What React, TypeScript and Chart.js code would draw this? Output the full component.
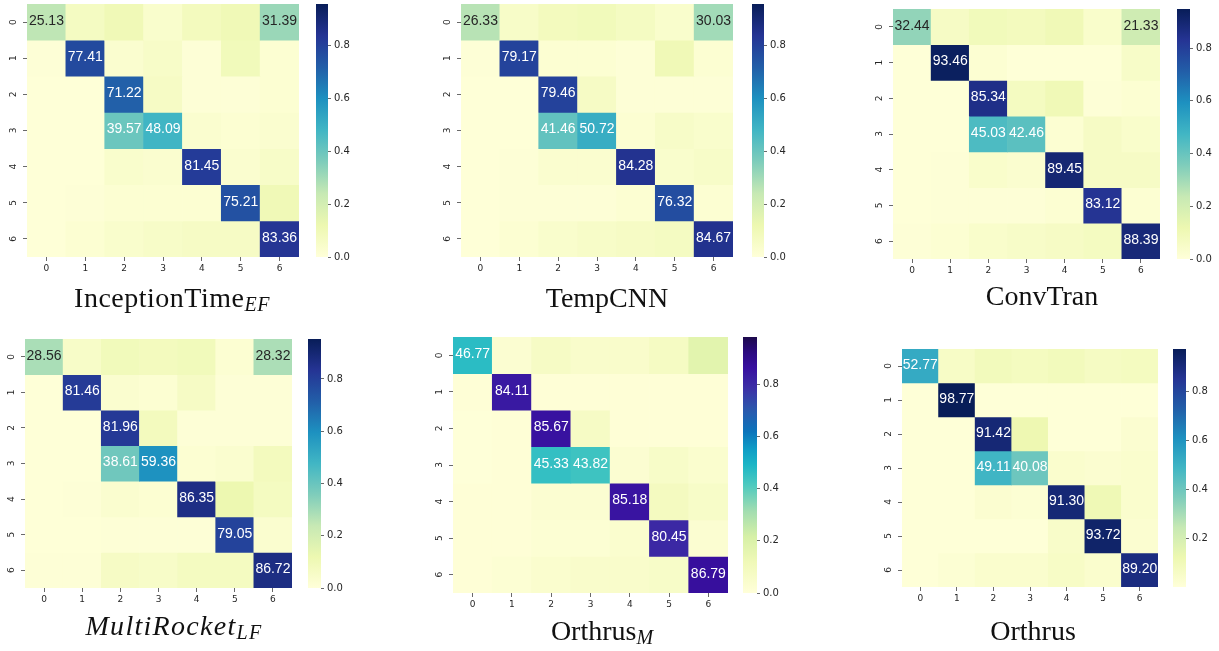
import React, { useEffect, useRef } from "react";
import { Chart, registerables } from "chart.js";

Chart.register(...registerables);

// ---------- data ----------
const CLASS_LABELS = ["0", "1", "2", "3", "4", "5", "6"];
const COLORBAR_TICKS = [0, 0.2, 0.4, 0.6, 0.8];
const ANNOT_MIN = 20;

const inceptionTimeEF = [
  [25.13, 7, 10, 4, 8, 10, 31.39],
  [1, 77.41, 3, 5, 1, 9, 2],
  [0.5, 0.5, 71.22, 6, 1, 1, 2],
  [0.5, 0.5, 39.57, 48.09, 3, 2, 3],
  [0.5, 0.5, 4, 3, 81.45, 3, 5],
  [0.5, 1, 2, 2, 2, 75.21, 10],
  [0.5, 2, 4, 5, 6, 6, 83.36],
];

const tempCNN = [
  [26.33, 5, 8, 9, 7, 4, 30.03],
  [1, 79.17, 2, 2, 1, 10, 2],
  [0.5, 0.5, 79.46, 6, 1, 1, 1],
  [0.5, 0.5, 41.46, 50.72, 2, 5, 4],
  [0.5, 1, 3, 3, 84.28, 4, 5],
  [0.5, 1, 1, 1, 2, 76.32, 2],
  [0.5, 2, 4, 5, 6, 7, 84.67],
];

const convTran = [
  [32.44, 6, 9, 8, 10, 4, 21.33],
  [0.5, 93.46, 2, 0.5, 0.5, 0.5, 5],
  [0.5, 0.5, 85.34, 7, 10, 1, 2],
  [0.5, 0.5, 45.03, 42.46, 2, 6, 4],
  [0.5, 1, 4, 3, 89.45, 6, 6],
  [0.5, 1, 1, 1, 2, 83.12, 2],
  [1, 2, 4, 5, 6, 7, 88.39],
];

const multiRocketLF = [
  [28.56, 5, 9, 8, 9, 2, 28.32],
  [0.5, 81.46, 3, 2, 6, 1, 1],
  [0.5, 0.5, 81.96, 8, 1, 1, 1],
  [0.5, 0.5, 38.61, 59.36, 2, 3, 8],
  [0.5, 1, 3, 2, 86.35, 12, 7],
  [0.5, 0.5, 1, 1, 1, 79.05, 3],
  [1, 1, 6, 5, 7, 7, 86.72],
];

const orthrusM = [
  [46.77, 3, 7, 5, 5, 8, 17],
  [1, 84.11, 1, 1, 1, 1, 1],
  [0.5, 1, 85.67, 7, 1, 1, 1],
  [0.5, 1, 45.33, 43.82, 3, 6, 4],
  [1, 1, 3, 3, 85.18, 9, 6],
  [1, 1, 2, 2, 4, 80.45, 3],
  [1, 2, 4, 5, 5, 6, 86.79],
];

const orthrus = [
  [52.77, 6, 9, 8, 9, 7, 8],
  [1, 98.77, 1, 1, 1, 1, 1],
  [1, 1, 91.42, 12, 1, 1, 3],
  [1, 1, 49.11, 40.08, 4, 3, 4],
  [1, 1, 3, 2, 91.3, 11, 4],
  [1, 1, 1, 1, 5, 93.72, 3],
  [1, 2, 4, 4, 6, 4, 89.2],
];

// colour scale ranges (min, max)
const rangeInception = [0, 0.955];
const rangeTempCNN = [0, 0.955];
const rangeConvTran = [0, 0.948];
const rangeMultiRocket = [0, 0.953];
const rangeOrthrusM = [0, 0.98];
const rangeOrthrus = [0.003, 0.972];

// ---------- colour maps ----------
const YLGNBU: [number, string][] = [
  [0, "#ffffd9"], [0.125, "#edf8b1"], [0.25, "#c7e9b4"], [0.375, "#7fcdbb"],
  [0.5, "#41b6c4"], [0.625, "#1d91c0"], [0.75, "#225ea8"], [0.875, "#253494"], [1, "#081d58"],
];
const YLGNPU: [number, string][] = [
  [0, "#ffffd9"], [0.12, "#f0f9b8"], [0.22, "#d6f0a6"], [0.32, "#a2ddb1"], [0.42, "#4fcabf"],
  [0.5, "#1cb6c6"], [0.56, "#0f9ec6"], [0.63, "#0b74bb"], [0.72, "#2c56ac"], [0.8, "#3c30a6"],
  [0.88, "#3810a0"], [0.94, "#2c0a80"], [1, "#1d0a4c"],
];

function hexToRgb(h: string) {
  return [parseInt(h.slice(1, 3), 16), parseInt(h.slice(3, 5), 16), parseInt(h.slice(5, 7), 16)];
}
function colorAt(cmap: [number, string][], t: number) {
  t = Math.max(0, Math.min(1, t));
  for (let i = 1; i < cmap.length; i++) {
    if (t <= cmap[i][0]) {
      const [t0, c0] = cmap[i - 1];
      const [t1, c1] = cmap[i];
      const f = (t - t0) / (t1 - t0);
      const a = hexToRgb(c0), b = hexToRgb(c1);
      const m = a.map((v, k) => Math.round(v + (b[k] - v) * f));
      return `rgb(${m[0]},${m[1]},${m[2]})`;
    }
  }
  return cmap[cmap.length - 1][1];
}

// ---------- layout ----------
type Box = { l: number; t: number; r: number; b: number };
type Panel = {
  matrix: number[][];
  range: number[];
  cmap: [number, string][];
  heat: Box;
  cbar: Box;
  title: React.ReactNode;
  titleX: number;
  titleBase: number;
};

const SUB: React.CSSProperties = { fontSize: 20, fontStyle: "italic", verticalAlign: "-4px" };

const PANELS: Panel[] = [
  {
    matrix: inceptionTimeEF, range: rangeInception, cmap: YLGNBU,
    heat: { l: 27, t: 4, r: 299, b: 257 }, cbar: { l: 316, t: 4, r: 328, b: 257 },
    title: <span style={{ letterSpacing: "0.5px" }}>InceptionTime<span style={SUB}>EF</span></span>, titleX: 172, titleBase: 307,
  },
  {
    matrix: tempCNN, range: rangeTempCNN, cmap: YLGNBU,
    heat: { l: 461, t: 4, r: 733, b: 257 }, cbar: { l: 752, t: 4, r: 764, b: 257 },
    title: <>TempCNN</>, titleX: 607, titleBase: 307,
  },
  {
    matrix: convTran, range: rangeConvTran, cmap: YLGNBU,
    heat: { l: 893, t: 9, r: 1160, b: 259 }, cbar: { l: 1177, t: 9, r: 1190, b: 259 },
    title: <>ConvTran</>, titleX: 1042, titleBase: 305,
  },
  {
    matrix: multiRocketLF, range: rangeMultiRocket, cmap: YLGNBU,
    heat: { l: 25, t: 339, r: 292, b: 588 }, cbar: { l: 308, t: 339, r: 321, b: 588 },
    title: <span style={{ fontStyle: "italic", letterSpacing: "1.3px" }}>MultiRocket<span style={SUB}>LF</span></span>, titleX: 174, titleBase: 635,
  },
  {
    matrix: orthrusM, range: rangeOrthrusM, cmap: YLGNPU,
    heat: { l: 453, t: 337, r: 728, b: 593 }, cbar: { l: 743, t: 337, r: 757, b: 593 },
    title: <>Orthrus<span style={SUB}>M</span></>, titleX: 602, titleBase: 640,
  },
  {
    matrix: orthrus, range: rangeOrthrus, cmap: YLGNBU,
    heat: { l: 902, t: 349, r: 1158, b: 587 }, cbar: { l: 1173, t: 349, r: 1186, b: 587 },
    title: <>Orthrus</>, titleX: 1033, titleBase: 640,
  },
];

const PAD = 14;
const Y_AXIS_W = 26;
const X_AXIS_H = 20;
const CB_AXIS_W = 34;
const TICK_FONT = { family: "DejaVu Sans", size: 9 };
const TICK_COLOR = "#262626";

function Heatmap({ p }: { p: Panel }) {
  const ref = useRef<HTMLCanvasElement>(null);
  const w = p.heat.r - p.heat.l + Y_AXIS_W + 2 * PAD;
  const h = p.heat.b - p.heat.t + X_AXIS_H + 2 * PAD;
  useEffect(() => {
    const [vmin, vmax] = p.range;
    const norm = (v: number) => (v / 100 - vmin) / (vmax - vmin);
    const datasets = p.matrix.map((row, r) => ({
      data: row.map(() => [r - 0.5, r + 0.5]),
      backgroundColor: row.map((v) => colorAt(p.cmap, norm(v))),
      grouped: false,
      barPercentage: 1,
      categoryPercentage: 1,
      borderWidth: 0,
    }));
    const annot = {
      id: "annot",
      afterDatasetsDraw(chart: any) {
        const { ctx } = chart;
        const xs = chart.scales.x, ys = chart.scales.y;
        ctx.save();
        ctx.font = '14px "Liberation Sans", Arial, sans-serif';
        ctx.textAlign = "center";
        ctx.textBaseline = "middle";
        p.matrix.forEach((row, r) =>
          row.forEach((v, c) => {
            if (v < ANNOT_MIN) return;
            ctx.fillStyle = norm(v) > 0.37 ? "#ffffff" : "#262626";
            ctx.fillText(v.toFixed(2), xs.getPixelForValue(c), ys.getPixelForValue(r) - 1);
          })
        );
        ctx.restore();
      },
    };
    const chart = new Chart(ref.current as HTMLCanvasElement, {
      type: "bar",
      data: { labels: CLASS_LABELS, datasets: datasets as any },
      options: {
        animation: false,
        responsive: false,
        events: [],
        layout: { padding: PAD },
        plugins: { legend: { display: false }, tooltip: { enabled: false } },
        scales: {
          x: {
            type: "category",
            offset: true,
            afterFit: (s: any) => { s.height = X_AXIS_H; },
            ticks: { font: TICK_FONT, color: TICK_COLOR, padding: 2, maxRotation: 0, autoSkip: false },
            grid: { offset: false, drawOnChartArea: false, drawTicks: true, tickLength: 4, color: "#444", lineWidth: 0.8 },
            border: { display: false },
          },
          y: {
            type: "linear",
            min: -0.5,
            max: 6.5,
            reverse: true,
            afterBuildTicks: (s: any) => { s.ticks = CLASS_LABELS.map((_, i) => ({ value: i })); },
            afterFit: (s: any) => { s.width = Y_AXIS_W; },
            ticks: {
              callback: (v: any) => CLASS_LABELS[v],
              minRotation: 90, maxRotation: 90, crossAlign: "center",
              padding: 6, font: TICK_FONT, color: TICK_COLOR,
            },
            grid: { drawOnChartArea: false, drawTicks: true, tickLength: 4, color: "#444", lineWidth: 0.8 },
            border: { display: false },
          },
        },
      } as any,
      plugins: [annot],
    });
    return () => chart.destroy();
  }, []);
  return (
    <canvas
      ref={ref}
      width={w}
      height={h}
      style={{ position: "absolute", left: p.heat.l - Y_AXIS_W - PAD, top: p.heat.t - PAD, width: w, height: h }}
    />
  );
}

function ColorBar({ p }: { p: Panel }) {
  const ref = useRef<HTMLCanvasElement>(null);
  const w = p.cbar.r - p.cbar.l + CB_AXIS_W + 2 * PAD;
  const h = p.cbar.b - p.cbar.t + 2 * PAD;
  useEffect(() => {
    const [vmin, vmax] = p.range;
    const chart = new Chart(ref.current as HTMLCanvasElement, {
      type: "bar",
      data: {
        labels: [""],
        datasets: [
          {
            data: [[vmin, vmax]] as any,
            backgroundColor: (ctx: any) => {
              const area = ctx.chart.chartArea;
              if (!area) return "#ffffd9";
              const g = ctx.chart.ctx.createLinearGradient(0, area.bottom, 0, area.top);
              p.cmap.forEach(([t, c]) => g.addColorStop(t, c));
              return g;
            },
            barPercentage: 1,
            categoryPercentage: 1,
            borderWidth: 0,
          },
        ],
      },
      options: {
        animation: false,
        responsive: false,
        events: [],
        layout: { padding: PAD },
        plugins: { legend: { display: false }, tooltip: { enabled: false } },
        scales: {
          x: { display: false },
          y: {
            position: "right",
            min: vmin,
            max: vmax,
            afterBuildTicks: (s: any) => {
              s.ticks = COLORBAR_TICKS.filter((v) => v >= vmin - 1e-9 && v <= vmax).map((v) => ({ value: v }));
            },
            afterFit: (s: any) => { s.width = CB_AXIS_W; },
            ticks: { callback: (v: any) => Number(v).toFixed(1), padding: 3, font: { family: "DejaVu Sans", size: 10 }, color: TICK_COLOR },
            grid: { drawOnChartArea: false, drawTicks: true, tickLength: 3, color: "#444", lineWidth: 0.8 },
            border: { display: false },
          },
        },
      } as any,
    });
    return () => chart.destroy();
  }, []);
  return (
    <canvas
      ref={ref}
      width={w}
      height={h}
      style={{ position: "absolute", left: p.cbar.l - PAD, top: p.cbar.t - PAD, width: w, height: h }}
    />
  );
}

export default function App() {
  return (
    <div style={{ position: "absolute", left: 0, top: 0, width: 1219, height: 651, background: "#fff", overflow: "hidden" }}>
      {PANELS.map((p, i) => (
        <React.Fragment key={i}>
          <Heatmap p={p} />
          <ColorBar p={p} />
          <div
            style={{
              position: "absolute",
              left: p.titleX,
              top: p.titleBase - 23.4,
              transform: "translateX(-50%)",
              whiteSpace: "nowrap",
              fontFamily: '"Liberation Serif", "Times New Roman", serif',
              fontSize: 28,
              lineHeight: "28px",
              color: "#111",
            }}
          >
            {p.title}
          </div>
        </React.Fragment>
      ))}
    </div>
  );
}
